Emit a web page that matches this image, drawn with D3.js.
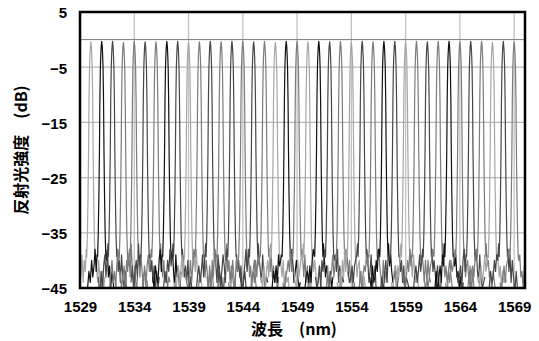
<!DOCTYPE html>
<html>
<head>
<meta charset="utf-8">
<script src="https://cdn.jsdelivr.net/npm/d3@7"></script>
<style>
  html, body { margin: 0; padding: 0; background: #fff; }
  svg { display: block; }
</style>
</head>
<body>
<script>
// Data
const centers = [1530, 1531, 1532, 1533, 1534, 1535, 1536, 1537, 1538, 1539,
  1540, 1541, 1542, 1543, 1544, 1545, 1546, 1547, 1548, 1549,
  1550, 1551, 1552, 1553, 1554, 1555, 1556, 1557, 1558, 1559,
  1560, 1561, 1562, 1563, 1564, 1565, 1566, 1567, 1568, 1569]
const tones = ["L", "K", "D", "M", "M", "D", "M", "K", "D", "L",
  "M", "D", "M", "D", "M", "D", "M", "L", "K", "M",
  "L", "K", "D", "M", "L", "D", "M", "K", "D", "L",
  "M", "D", "M", "K", "M", "D", "M", "L", "D", "M"]
const peakTops = [-0.4, -0.3, -0.3, -0.5, -0.3, -0.4, -0.4, -0.3, -0.3, -0.5,
  -0.4, -0.3, -0.4, -0.3, -0.3, -0.4, -0.3, -0.5, -0.3, -0.3,
  -0.4, -0.3, -0.4, -0.3, -0.5, -0.3, -0.4, -0.3, -0.3, -0.4,
  -0.3, -0.4, -0.3, -0.3, -0.4, -0.3, -0.3, -0.5, -0.3, -0.4]
// peak shape: offset from centre (nm) and level below the top (dB)
const profileOffsets = [-0.38, -0.32, -0.26, -0.21, -0.17, -0.125, -0.09, -0.05, 0, 0.05, 0.09, 0.125, 0.17, 0.21, 0.26, 0.32, 0.38]
const profileDrops = [-39, -35, -28, -20, -11, -5, -2.7, -1, 0, -1, -2.7, -5, -11, -20, -28, -35, -39]
// noise floor around each peak (dB) at these offsets (nm)
const floorOffsets = [-1.3, -1.18, -1.05, -0.93, -0.82, -0.71, -0.61, -0.51, -0.43,
  0.43, 0.52, 0.62, 0.72, 0.83, 0.94, 1.06, 1.19, 1.3]
const floors = [
  [-44, -46, -41, -43, -39, -44, -40, -42, -38, -39, -41, -44, -40, -43, -46, -42, -45, -43],
  [-45, -42, -44, -40, -43, -41, -38, -42, -39, -40, -38, -43, -41, -45, -42, -44, -47, -44],
  [-43, -47, -42, -45, -41, -39, -43, -40, -37, -38, -42, -40, -44, -39, -43, -45, -42, -46],
  [-46, -43, -40, -44, -42, -45, -41, -38, -40, -41, -39, -43, -37, -42, -44, -41, -46, -43],
  [-42, -45, -43, -41, -46, -40, -42, -39, -38, -40, -43, -39, -42, -45, -41, -43, -44, -47],
  [-44, -41, -46, -42, -40, -43, -37, -41, -39, -39, -42, -40, -44, -41, -46, -42, -45, -43],
  [-47, -43, -42, -45, -41, -39, -42, -40, -38, -37, -41, -43, -40, -44, -42, -45, -43, -44],
  [-43, -45, -41, -43, -44, -40, -38, -42, -39, -40, -38, -42, -45, -39, -43, -41, -46, -42],
  [-45, -42, -44, -40, -42, -38, -41, -39, -37, -38, -40, -43, -41, -44, -40, -46, -43, -45],
  [-44, -46, -43, -41, -45, -42, -39, -43, -40, -41, -39, -42, -38, -43, -45, -42, -44, -46],
  [-42, -44, -45, -43, -40, -44, -41, -38, -39, -39, -43, -40, -42, -46, -41, -44, -42, -45],
  [-46, -43, -41, -44, -42, -39, -43, -40, -37, -38, -41, -44, -39, -42, -45, -43, -47, -43],
  [-43, -45, -42, -46, -40, -43, -38, -41, -39, -40, -37, -42, -40, -44, -41, -43, -45, -44],
  [-45, -41, -44, -42, -39, -41, -44, -39, -38, -39, -42, -40, -43, -41, -46, -44, -42, -45],
  [-44, -47, -43, -40, -43, -45, -40, -42, -40, -41, -38, -43, -41, -45, -42, -40, -44, -46],
  [-42, -44, -46, -43, -41, -38, -42, -40, -38, -37, -40, -42, -44, -39, -43, -45, -43, -44],
  [-46, -43, -42, -44, -40, -43, -39, -41, -39, -38, -42, -39, -43, -41, -44, -42, -46, -43],
  [-43, -45, -41, -45, -42, -40, -43, -38, -37, -39, -41, -43, -40, -45, -42, -44, -43, -47],
  [-45, -42, -44, -41, -44, -39, -41, -40, -39, -40, -38, -41, -44, -42, -40, -43, -45, -44],
  [-44, -46, -43, -42, -40, -42, -38, -42, -38, -38, -40, -43, -39, -44, -41, -46, -42, -45],
  [-42, -44, -45, -40, -43, -41, -39, -40, -37, -39, -42, -40, -42, -45, -43, -41, -44, -46],
  [-46, -43, -42, -44, -41, -44, -40, -38, -39, -37, -40, -43, -41, -43, -46, -42, -45, -43],
  [-43, -45, -44, -41, -45, -40, -42, -39, -38, -40, -39, -42, -38, -44, -41, -45, -43, -44],
  [-45, -41, -46, -43, -42, -39, -43, -41, -39, -38, -41, -39, -43, -40, -44, -42, -47, -44],
  [-44, -47, -42, -45, -40, -43, -38, -42, -38, -39, -43, -41, -40, -44, -42, -46, -43, -45],
  [-42, -44, -43, -41, -44, -41, -40, -39, -37, -38, -40, -44, -42, -39, -45, -43, -41, -46],
  [-46, -42, -45, -43, -41, -42, -39, -41, -39, -40, -38, -41, -43, -45, -40, -44, -42, -44],
  [-43, -45, -41, -44, -43, -40, -42, -38, -38, -37, -41, -39, -42, -44, -43, -41, -46, -43],
  [-45, -43, -46, -42, -40, -44, -39, -40, -39, -39, -42, -40, -44, -41, -46, -43, -44, -45],
  [-44, -46, -42, -41, -45, -41, -43, -39, -37, -38, -40, -43, -39, -42, -44, -42, -45, -47],
  [-42, -44, -45, -43, -40, -42, -38, -41, -39, -40, -39, -41, -44, -40, -43, -45, -43, -44],
  [-46, -43, -41, -44, -42, -39, -42, -40, -38, -38, -42, -40, -42, -45, -41, -44, -46, -43],
  [-43, -45, -44, -40, -43, -41, -40, -38, -39, -37, -40, -43, -41, -44, -42, -40, -43, -45],
  [-45, -42, -46, -43, -41, -44, -39, -41, -37, -39, -41, -39, -43, -42, -45, -43, -47, -44],
  [-44, -47, -42, -44, -40, -42, -41, -39, -38, -38, -43, -41, -40, -44, -41, -46, -42, -45],
  [-42, -44, -43, -41, -45, -40, -38, -42, -39, -40, -38, -42, -44, -39, -43, -45, -44, -43],
  [-46, -43, -45, -42, -41, -43, -40, -39, -38, -37, -41, -40, -43, -42, -46, -42, -44, -46],
  [-43, -45, -41, -44, -42, -39, -42, -41, -39, -39, -40, -43, -41, -45, -42, -44, -43, -44],
  [-45, -42, -44, -43, -40, -42, -39, -40, -37, -38, -42, -39, -44, -40, -43, -46, -42, -45],
  [-44, -46, -43, -41, -44, -41, -40, -38, -38, -40, -39, -43, -42, -45, -41, -44, -46, -43]
]
const yTicks = [5, -5, -15, -25, -35, -45]
const xTicks = [1529, 1534, 1539, 1544, 1549, 1554, 1559, 1564, 1569]

const toneColor = { L: "#a6a6a6", M: "#7c7c7c", D: "#474747", K: "#111111" }

// Create SVG
const width = 539, height = 341
const margin = { top: 12, right: 14, bottom: 53, left: 80 }
const svg = d3.select("body").append("svg").attr("width", width).attr("height", height)

const x = d3.scaleLinear().domain([1529, 1570]).range([margin.left, width - margin.right])
const y = d3.scaleLinear().domain([-45, 5]).range([height - margin.bottom, margin.top])

svg.append("defs").append("clipPath").attr("id", "plot")
  .append("rect")
  .attr("x", margin.left).attr("y", margin.top)
  .attr("width", x.range()[1] - margin.left).attr("height", y.range()[0] - margin.top)

// Grid
svg.append("g")
  .attr("stroke", "#c2c2c2").attr("stroke-width", 1.3)
  .selectAll("line")
  .data(xTicks.slice(1))
  .join("line")
  .attr("x1", d => x(d)).attr("x2", d => x(d))
  .attr("y1", y(5)).attr("y2", y(-45))
svg.append("g")
  .attr("stroke", "#b8b8b8").attr("stroke-width", 1.3)
  .selectAll("line")
  .data(yTicks.slice(1, -1))
  .join("line")
  .attr("x1", x(1529)).attr("x2", x(1570))
  .attr("y1", d => y(d)).attr("y2", d => y(d))
svg.append("line")
  .attr("stroke", "#7a7a7a").attr("stroke-width", 1)
  .attr("x1", x(1529)).attr("x2", x(1570))
  .attr("y1", y(0)).attr("y2", y(0))

// Spectra: one trace per grating
const line = d3.line().x(d => x(d[0])).y(d => y(d[1]))
const traces = centers.map((c, i) => {
  const fl = floors[i]
  const pts = []
  floorOffsets.slice(0, 9).forEach((o, j) => pts.push([c + o, fl[j]]))
  profileOffsets.forEach((o, j) => pts.push([c + o, peakTops[i] + profileDrops[j]]))
  floorOffsets.slice(9).forEach((o, j) => pts.push([c + o, fl[9 + j]]))
  return { tone: tones[i], pts }
})
svg.append("g")
  .attr("clip-path", "url(#plot)")
  .attr("fill", "none")
  .attr("stroke-width", 1.2)
  .attr("stroke-linejoin", "round")
  .selectAll("path")
  .data(traces)
  .join("path")
  .attr("stroke", d => toneColor[d.tone])
  .attr("d", d => line(d.pts))

// Frame
svg.append("rect")
  .attr("x", margin.left).attr("y", margin.top)
  .attr("width", x.range()[1] - margin.left).attr("height", y.range()[0] - margin.top)
  .attr("fill", "none").attr("stroke", "#000").attr("stroke-width", 2.5)

// Axes
const tickFont = "'Liberation Sans', Arial, sans-serif"
const yAxis = svg.append("g")
  .attr("transform", `translate(${margin.left - 13},1)`)
  .call(d3.axisLeft(y).tickValues(yTicks).tickSize(0).tickPadding(0))
yAxis.select(".domain").remove()
yAxis.selectAll("text").attr("font-family", tickFont).attr("font-size", 15).attr("font-weight", "bold").attr("fill", "#000")

const xAxis = svg.append("g")
  .attr("transform", `translate(0,${height - margin.bottom + 13})`)
  .call(d3.axisBottom(x).tickValues(xTicks).tickSize(0).tickPadding(0).tickFormat(d3.format("d")))
xAxis.select(".domain").remove()
xAxis.selectAll("text").attr("font-family", tickFont).attr("font-size", 15).attr("font-weight", "bold").attr("fill", "#000")

// Titles
const titleFont = "'Noto Sans CJK JP', 'Noto Sans CJK SC', sans-serif"
svg.append("text")
  .attr("x", 294).attr("y", 335)
  .attr("text-anchor", "middle")
  .attr("font-family", titleFont).attr("font-size", 16).attr("font-weight", "bold")
  .text("波長　(nm)")
svg.append("text")
  .attr("transform", `translate(27,${(y(5) + y(-45)) / 2}) rotate(-90)`)
  .attr("text-anchor", "middle")
  .attr("font-family", titleFont).attr("font-size", 16).attr("font-weight", "bold")
  .text("反射光強度　(dB)")
</script>
</body>
</html>
